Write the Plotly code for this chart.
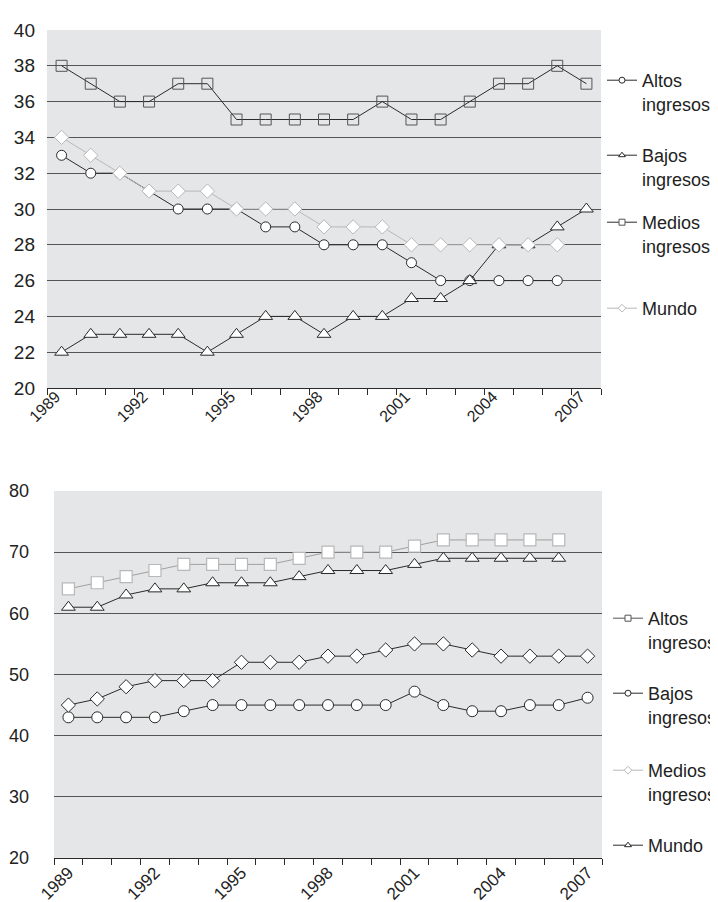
import plotly.graph_objects as go

W, H = 718, 902

years = list(range(1989, 2008))
tick_years = [1989, 1992, 1995, 1998, 2001, 2004, 2007]

# Top chart
top_altos = [33, 32, 32, 31, 30, 30, 30, 29, 29, 28, 28, 28, 27, 26, 26, 26, 26, 26, None]
top_bajos = [22, 23, 23, 23, 23, 22, 23, 24, 24, 23, 24, 24, 25, 25, 26, 28, 28, 29, 30]
top_medios = [38, 37, 36, 36, 37, 37, 35, 35, 35, 35, 35, 36, 35, 35, 36, 37, 37, 38, 37]
top_mundo = [34, 33, 32, 31, 31, 31, 30, 30, 30, 29, 29, 29, 28, 28, 28, 28, 28, 28, None]

# Bottom chart
bot_altos = [64, 65, 66, 67, 68, 68, 68, 68, 69, 70, 70, 70, 71, 72, 72, 72, 72, 72, None]
bot_bajos = [43, 43, 43, 43, 44, 45, 45, 45, 45, 45, 45, 45, 47.2, 45, 44, 44, 45, 45, 46.2]
bot_medios = [45, 46, 48, 49, 49, 49, 52, 52, 52, 53, 53, 54, 55, 55, 54, 53, 53, 53, 53]
bot_mundo = [61, 61, 63, 64, 64, 65, 65, 65, 66, 67, 67, 67, 68, 69, 69, 69, 69, 69, None]

names = ["Altos<br>ingresos", "Bajos<br>ingresos", "Medios<br>ingresos", "Mundo"]

FONT = "Liberation Sans, Arial, sans-serif"
DARK = "#2a2a2a"
LIGHT = "#b8b8b8"
BG = "#e5e6e8"


def px(x):
    return x / W


def py(y):
    return 1 - y / H


fig = go.Figure()

top_styles = [
    (top_altos, dict(symbol="circle", size=10, color="white", line=dict(color=DARK, width=1)), DARK),
    (top_bajos, dict(symbol="triangle-up", size=12, color="white", line=dict(color=DARK, width=1)), DARK),
    (top_medios, dict(symbol="square", size=11, color="rgba(0,0,0,0)", line=dict(color="#555555", width=1)), DARK),
    (top_mundo, dict(symbol="diamond", size=11, color="white", line=dict(color=LIGHT, width=1)), LIGHT),
]
for vals, mk, lc in top_styles:
    fig.add_trace(go.Scatter(x=years, y=vals, mode="lines+markers", xaxis="x", yaxis="y",
                             line=dict(color=lc, width=1), marker=mk, showlegend=False,
                             connectgaps=False))

bot_styles = [
    (bot_altos, dict(symbol="square", size=12, color="white", line=dict(color=LIGHT, width=1.2)), "#a0a0a0"),
    (bot_bajos, dict(symbol="circle", size=11, color="white", line=dict(color=DARK, width=1)), DARK),
    (bot_medios, dict(symbol="diamond", size=11, color="white", line=dict(color=DARK, width=1)), DARK),
    (bot_mundo, dict(symbol="triangle-up", size=12, color="white", line=dict(color=DARK, width=1)), DARK),
]
for vals, mk, lc in bot_styles:
    fig.add_trace(go.Scatter(x=years, y=vals, mode="lines+markers", xaxis="x2", yaxis="y2",
                             line=dict(color=lc, width=1), marker=mk, showlegend=False))

# legend entries (small symbols, as in the reference)
top_leg = [("circle", DARK, DARK), ("triangle-up", DARK, DARK), ("square", "#555555", DARK), ("diamond", LIGHT, LIGHT)]
bot_leg = [("square", "#555555", "#555555"), ("circle", DARK, DARK), ("diamond", LIGHT, LIGHT), ("triangle-up", DARK, DARK)]
top_leg_y = [54, 129, 196, 282]
bot_leg_y = [592, 667, 744, 819]

legends = {}
k = 1
for (sym, mc, lc), name, yy in zip(top_leg, names, top_leg_y):
    lname = "legend" if k == 1 else f"legend{k}"
    fig.add_trace(go.Scatter(x=[None], y=[None], xaxis="x", yaxis="y", mode="lines+markers", name=name,
                             line=dict(color=lc, width=1),
                             marker=dict(symbol=sym, size=6, color="white", line=dict(color=mc, width=1)),
                             legend=lname, showlegend=True))
    legends[lname] = dict(x=px(594), y=py(yy), xanchor="left", yanchor="top", valign="top",
                          bgcolor="rgba(0,0,0,0)", font=dict(family=FONT, size=18, color="#222"),
                          itemwidth=30)
    k += 1
for (sym, mc, lc), name, yy in zip(bot_leg, names, bot_leg_y):
    lname = f"legend{k}"
    fig.add_trace(go.Scatter(x=[None], y=[None], xaxis="x2", yaxis="y2", mode="lines+markers", name=name,
                             line=dict(color=lc, width=1),
                             marker=dict(symbol=sym, size=6, color="white", line=dict(color=mc, width=1)),
                             legend=lname, showlegend=True))
    legends[lname] = dict(x=px(600), y=py(yy), xanchor="left", yanchor="top", valign="top",
                          bgcolor="rgba(0,0,0,0)", font=dict(family=FONT, size=18, color="#222"),
                          itemwidth=30)
    k += 1


def xaxis_cfg(domain, anchor, size, standoff, shift):
    return dict(domain=domain, anchor=anchor,
                range=[1988.5, 2007.5], tickvals=tick_years, tickangle=-45, ticks="",
                showgrid=False, zeroline=False, showline=True, linecolor=DARK, linewidth=1.2,
                tickfont=dict(family=FONT, size=size, color="#222"),
                ticklabelstandoff=standoff, ticklabelshift=shift,
                minor=dict(ticks="outside", tick0=1988.5, dtick=1, ticklen=6, tickcolor=DARK,
                           tickwidth=1, showgrid=False),
                automargin=False, fixedrange=True)


ycommon = dict(showgrid=True, gridcolor="#555555", gridwidth=1.3, zeroline=False, showline=False,
               ticks="", automargin=False, fixedrange=True)

fig.update_layout(
    width=W, height=H, margin=dict(l=0, r=0, t=0, b=0),
    paper_bgcolor="white", plot_bgcolor=BG,
    font=dict(family=FONT, color="#222"),
    xaxis=xaxis_cfg([px(39), px(593)], "y", 16, -8, -6),
    yaxis=dict(domain=[py(380), py(22)], anchor="x", range=[20, 40], dtick=2,
               tickfont=dict(family=FONT, size=19, color="#222"), ticklabelstandoff=11, **ycommon),
    xaxis2=xaxis_cfg([px(46), px(594)], "y2", 17, -3, 0),
    yaxis2=dict(domain=[py(850), py(483)], anchor="x2", range=[20, 80], dtick=10,
                tickfont=dict(family=FONT, size=18, color="#222"), ticklabelstandoff=24, **ycommon),
    **legends,
)

fig.write_html("out.html")
